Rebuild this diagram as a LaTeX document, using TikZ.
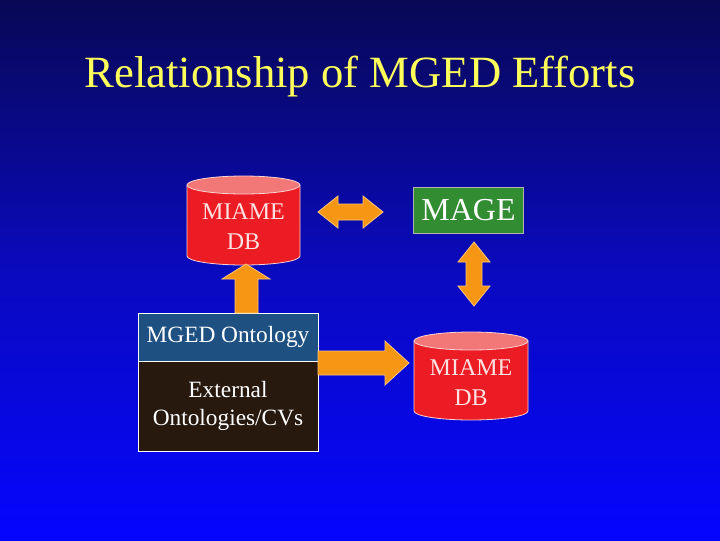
\documentclass[tikz,border=0pt]{standalone}
\usepackage{fontspec}
\setmainfont{Liberation Serif}
\usetikzlibrary{shapes.geometric}
\definecolor{bgtop}{RGB}{8,8,85}
\definecolor{bgbot}{RGB}{5,5,255}
\definecolor{cylred}{RGB}{236,28,36}
\definecolor{cyltop}{RGB}{242,120,120}
\definecolor{txtpink}{RGB}{255,225,225}
\definecolor{arr}{RGB}{245,150,20}
\definecolor{arrb}{RGB}{255,200,120}
\definecolor{mgreen}{RGB}{50,140,50}
\definecolor{ontblue}{RGB}{30,80,130}
\definecolor{extbrown}{RGB}{40,25,15}
\tikzset{
  arrowshape/.style={fill=arr,draw=arrb,line width=0.6pt},
  cyltext/.style={text=txtpink,font=\fontsize{18}{22.5}\selectfont,align=center},
}
\begin{document}
\begin{tikzpicture}[x=0.75pt,y=-0.75pt]
\shade[top color=bgtop,bottom color=bgbot,middle color={rgb,255:red,10;green,10;blue,190}] (0,0) rectangle (720,540);
\useasboundingbox (0,0) rectangle (720,540);
\node[text={rgb,255:red,255;green,255;blue,90},font=\fontsize{33.5}{38}\selectfont] (title) at (360,77) {Relationship of MGED Efforts};
% cylinder 1
\fill[cylred,draw=white!80!cylred,line width=0.6pt] (187,185) -- (187,256) arc[start angle=180,end angle=0,x radius=56.5,y radius=9] -- (300,185) -- cycle;
\fill[cyltop,draw=white!80!cylred,line width=0.6pt] (243.5,185) ellipse[x radius=56.5,y radius=9];
\node[cyltext] (db1) at (243.5,227) {MIAME\\DB};
% cylinder 2
\fill[cylred,draw=white!80!cylred,line width=0.6pt] (414,341) -- (414,411) arc[start angle=180,end angle=0,x radius=57,y radius=9] -- (528,341) -- cycle;
\fill[cyltop,draw=white!80!cylred,line width=0.6pt] (471,341) ellipse[x radius=57,y radius=9];
\node[cyltext] (db2) at (471,383) {MIAME\\DB};
% MAGE
\node[fill=mgreen,draw=gray!60,line width=0.6pt,minimum width=82pt,minimum height=34.5pt,text=white,font=\fontsize{24}{28}\selectfont,inner sep=0pt] (mage) at (468.5,210) {MAGE};
% ontology boxes
\node[fill=ontblue,draw=white,line width=0.6pt,minimum width=135pt,minimum height=36pt,text=white,font=\fontsize{17.5}{21}\selectfont,inner sep=0pt] (mged) at (228,337) {\raisebox{-2pt}{MGED Ontology}};
\node[fill=extbrown,draw=white,line width=0.6pt,minimum width=135pt,minimum height=67.5pt,text=white,font=\fontsize{17.5}{21}\selectfont,align=center,inner sep=0pt] (ext) at (228,406) {External\\Ontologies/CVs};
% arrows
\draw[arrowshape] (318,212) -- (338,196) -- (338,204) -- (363,204) -- (363,196) -- (383,212) -- (363,228) -- (363,220) -- (338,220) -- (338,228) -- cycle;
\draw[arrowshape] (474,242) -- (490,262) -- (482,262) -- (482,286) -- (490,286) -- (474,306) -- (458,286) -- (466,286) -- (466,262) -- (458,262) -- cycle;
\draw[arrowshape] (235,313) -- (235,279) -- (222,279) -- (246,264) -- (270,279) -- (258,279) -- (258,313) -- cycle;
\draw[arrowshape] (318,351) -- (385,351) -- (385,341) -- (409,363) -- (385,385) -- (385,375) -- (318,375) -- cycle;
\end{tikzpicture}
\end{document}
